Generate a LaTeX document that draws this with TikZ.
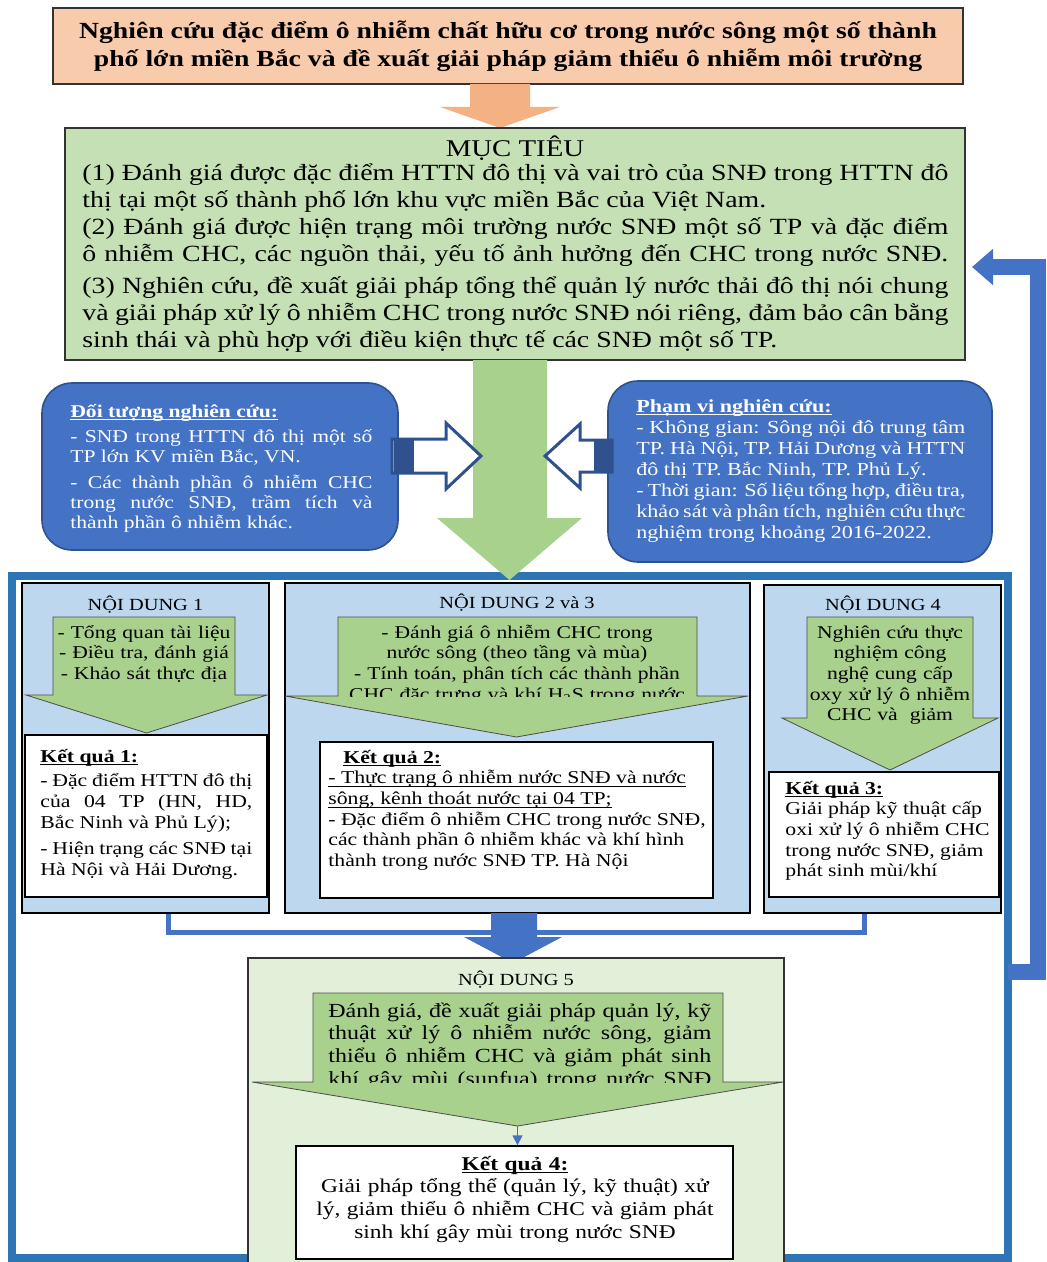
\documentclass[tikz,border=0pt]{standalone}
\usepackage{fontspec}
\setmainfont{Liberation Serif}[FakeStretch=1.2]
\usepackage{tikz}
\usetikzlibrary{arrows.meta}

\definecolor{peach}{HTML}{F8CBAD}
\definecolor{orangearr}{HTML}{F4B183}
\definecolor{goalgreen}{HTML}{C5E0B4}
\definecolor{arrgreen}{HTML}{A9D18E}
\definecolor{paleblue}{HTML}{BDD7EE}
\definecolor{midblue}{HTML}{4472C4}
\definecolor{darkblue}{HTML}{2F528F}
\definecolor{frameblue}{HTML}{2E75B6}
\definecolor{palegreen}{HTML}{E2F0D9}

% font word spaces back (tikz align makes them rigid)
\newcommand{\nsp}{\spaceskip=0pt\xspaceskip=0pt\relax}
% justified line of a box
\newcommand{\jl}[1]{\makebox[\linewidth][s]{\nsp#1}}
% underline kept close to the baseline
\newcommand{\ul}[1]{\underline{\smash{#1}}}
% down block arrow: shaft x1 x2, top, head y, head x1 x2, tip y
\newcommand{\blockdown}[8][]{\path[#1] (#2,#4) -- (#3,#4) -- (#3,#5) -- (#7,#5) -- ({(#6+#7)/2},#8) -- (#6,#5) -- (#2,#5) -- cycle;}

\begin{document}
\begin{tikzpicture}[x=0.5pt, y=-0.5pt]
  \tikzstyle{titlebox} = [draw=black!80, line width=0.8pt, fill=peach, minimum width=455pt, minimum height=38pt, align=center, font={\fontsize{11.55}{14}\selectfont\bfseries}]
  \tikzstyle{goalbox} = [draw=black!80, line width=0.8pt, fill=goalgreen, minimum width=450pt, minimum height=116pt]
  \tikzstyle{scopebox} = [draw=darkblue, line width=0.8pt, fill=midblue, rounded corners=15pt]
  \tikzstyle{ndbox} = [draw=black, line width=0.6pt, fill=paleblue]
  \tikzstyle{resbox} = [draw=black, line width=0.7pt, fill=white]
  \tikzstyle{ndarrow} = [draw=black!70, line width=0.4pt, fill=arrgreen]
  \tikzstyle{hollow} = [draw=darkblue, line width=1.5pt, fill=white, line join=miter]
  \tikzstyle{txtl} = [inner sep=0pt, anchor=base west, align=left, execute at begin node=\nsp]
  \tikzstyle{txtc} = [inner sep=0pt, anchor=base, align=center]
  \tikzstyle{ndhead} = [inner sep=0pt, anchor=base, font={\fontsize{8.5}{10}\selectfont}]
  \tikzstyle{arrfont} = [font={\fontsize{9}{10.35}\selectfont}]
  \tikzstyle{resfont} = [font={\fontsize{9.05}{10.35}\selectfont}]
  \tikzstyle{fbarrow} = [midblue, line width=8pt, line join=miter, -{Triangle[width=17.5pt,length=10.5pt]}]

  \useasboundingbox (0,0) rectangle (1046,1262);

  % outer frame
  \draw[frameblue, line width=4pt] (12,576) rectangle (1008,1258);

  % title and objectives
  \node[titlebox] (title) at (508,46) {Nghiên cứu đặc điểm ô nhiễm chất hữu cơ trong nước sông một số thành\\phố lớn miền Bắc và đề xuất giải pháp giảm thiểu ô nhiễm môi trường};
  \blockdown[fill=orangearr]{470}{530}{84}{107}{440}{560}{128}
  \node[goalbox] (mt) at (515,244) {};
  \node[txtc, font={\fontsize{12}{13.5}\selectfont}] at (515,157) {MỤC TIÊU};
  \node[txtl, text width=433pt, font={\fontsize{11.6}{13.5}\selectfont}] at (82,181) {\jl{(1) Đánh giá được đặc điểm HTTN đô thị và vai trò của SNĐ trong HTTN đô}\\
    thị tại một số thành phố lớn khu vực miền Bắc của Việt Nam.\\
    \jl{(2) Đánh giá được hiện trạng môi trường nước SNĐ một số TP và đặc điểm}\\
    \jl{ô nhiễm CHC, các nguồn thải, yếu tố ảnh hưởng đến CHC trong nước SNĐ.}\\[2.5pt]
    \jl{(3) Nghiên cứu, đề xuất giải pháp tổng thể quản lý nước thải đô thị nói chung}\\
    \jl{và giải pháp xử lý ô nhiễm CHC trong nước SNĐ nói riêng, đảm bảo cân bằng}\\
    sinh thái và phù hợp với điều kiện thực tế các SNĐ một số TP.};
  \blockdown[fill=arrgreen]{473}{547}{360}{518}{437}{582}{580}

  % object and scope
  \node[scopebox, minimum width=178pt, minimum height=83.5pt] (obj) at (220,466.5) {};
  \node[txtl, text width=151pt, text=white, font={\fontsize{9}{10}\selectfont}] at (70,417) {\ul{\textbf{Đối tượng nghiên cứu:}}\\[2.5pt]
    \jl{- SNĐ trong HTTN đô thị một số}\\
    TP lớn KV miền Bắc, VN.\\[3pt]
    \jl{- Các thành phần ô nhiễm CHC}\\
    \jl{trong nước SNĐ, trầm tích và}\\
    thành phần ô nhiễm khác.};
  \node[scopebox, minimum width=192pt, minimum height=90.5pt] (pham) at (800,471.5) {};
  \node[txtl, text width=164.5pt, text=white, font={\fontsize{9.2}{10.5}\selectfont}] at (636,412) {\ul{\textbf{Phạm vi nghiên cứu:}}\\
    \jl{- Không gian: Sông nội đô trung tâm}\\
    \jl{TP. Hà Nội, TP. Hải Dương và HTTN}\\
    đô thị TP. Bắc Ninh, TP. Phủ Lý.\\
    \jl{- Thời gian: Số liệu tổng hợp, điều tra,}\\
    \jl{khảo sát và phân tích, nghiên cứu thực}\\
    nghiệm trong khoảng 2016-2022.};
  \path[hollow] (392,439) -- (446,439) -- (446,423) -- (481,456) -- (446,489) -- (446,473) -- (392,473) -- cycle;
  \fill[darkblue] (394,439) rectangle (414,473);
  \path[hollow] (612,440) -- (580,440) -- (580,424) -- (545,456) -- (580,488) -- (580,472) -- (612,472) -- cycle;
  \fill[darkblue] (594,440) rectangle (612,472);

  % content 1
  \node[ndbox, minimum width=123.5pt, minimum height=165pt] (nd1) at (145.5,748) {};
  \node[ndhead] at (145.5,610) {NỘI DUNG 1};
  \blockdown[ndarrow]{53}{235}{617}{695}{26}{267}{733}
  \node[txtc, arrfont, text width=88pt] at (144,638) {- Tổng quan tài liệu\\- Điều tra, đánh giá\\- Khảo sát thực địa};
  \node[resbox, minimum width=121pt, minimum height=81pt] (r1) at (146,816) {};
  \node[txtl, resfont, text width=106pt] at (40,762) {\ul{\textbf{Kết quả 1:}}\\[2pt]
    \jl{- Đặc điểm HTTN đô thị}\\
    \jl{của 04 TP (HN, HD,}\\
    Bắc Ninh và Phủ Lý);\\[3pt]
    \jl{- Hiện trạng các SNĐ tại}\\
    Hà Nội và Hải Dương.};

  % content 2 and 3
  \node[ndbox, minimum width=232.5pt, minimum height=165pt] (nd23) at (517.5,748) {};
  \node[ndhead] at (517,608) {NỘI DUNG 2 và 3};
  \blockdown[ndarrow]{338}{697}{617}{696}{285}{748}{737}
  \begin{scope}
    \clip (338,617) rectangle (697,696);
    \node[txtc, arrfont, text width=178pt] at (517,638) {- Đánh giá ô nhiễm CHC trong\\nước sông (theo tầng và mùa)\\- Tính toán, phân tích các thành phần\\CHC đặc trưng và khí H\textsubscript{2}S trong nước};
  \end{scope}
  \node[resbox, minimum width=196.5pt, minimum height=78pt] (r2) at (516.5,820) {};
  \node[txtl, resfont, text width=200pt] at (328,763) {\hspace*{7.5pt}\ul{\textbf{Kết quả 2:}}\\
    \ul{- Thực trạng ô nhiễm nước SNĐ và nước}\\
    \ul{sông, kênh thoát nước tại 04 TP;}\\
    - Đặc điểm ô nhiễm CHC trong nước SNĐ,\\
    các thành phần ô nhiễm khác và khí hình\\
    thành trong nước SNĐ TP. Hà Nội};

  % content 4
  \node[ndbox, minimum width=118.5pt, minimum height=164pt] (nd4) at (882.5,749) {};
  \node[ndhead] at (883,610) {NỘI DUNG 4};
  \blockdown[ndarrow]{807}{973}{617}{718}{782}{998}{770}
  \node[txtc, arrfont, text width=82pt] at (890,638) {Nghiên cứu thực\\nghiệm công\\nghệ cung cấp\\oxy xử lý ô nhiễm\\CHC và\ \ giảm};
  \node[resbox, minimum width=115pt, minimum height=62.5pt] (r3) at (884,834.5) {};
  \node[txtl, resfont, text width=105pt] at (785,794) {\ul{\textbf{Kết quả 3:}}\\
    Giải pháp kỹ thuật cấp\\
    oxi xử lý ô nhiễm CHC\\
    trong nước SNĐ, giảm\\
    phát sinh mùi/khí};

  % join towards content 5
  \draw[midblue, line width=2.5pt, line join=miter] ([xshift=11.25pt]nd1.south) -- ++(0,19) -| ([xshift=-9.25pt]nd4.south);
  \blockdown[fill=midblue]{491}{537}{913}{937}{464}{562}{963}

  % content 5
  \node[draw=black!80, line width=0.6pt, fill=palegreen, minimum width=268pt, minimum height=161pt] (nd5) at (516,1119) {};
  \node[ndhead] at (516,985) {NỘI DUNG 5};
  \blockdown[ndarrow]{313}{723}{993}{1082}{252}{783}{1126}
  \begin{scope}
    \clip (313,993) rectangle (723,1082);
    \node[txtl, text width=191.5pt, font={\fontsize{10}{11.35}\selectfont}] at (328,1017) {\jl{Đánh giá, đề xuất giải pháp quản lý, kỹ}\\
      \jl{thuật xử lý ô nhiễm nước sông, giảm}\\
      \jl{thiểu ô nhiễm CHC và giảm phát sinh}\\
      \jl{khí gây mùi (sunfua) trong nước SNĐ}};
  \end{scope}
  \coordinate (t5) at (517.5,1126);
  \node[resbox, minimum width=218.5pt, minimum height=56.5pt] (r4) at (514.5,1202.5) {};
  \draw[midblue, line width=0.8pt, -{Triangle[width=5pt,length=5pt]}] (t5) -- (t5 |- r4.north);
  \node[txtc, text width=215pt, font={\fontsize{9.75}{11.35}\selectfont}] at (515,1170) {\ul{\textbf{Kết quả 4:}}\\
    Giải pháp tổng thể (quản lý, kỹ thuật) xử\\
    lý, giảm thiểu ô nhiễm CHC và giảm phát\\
    sinh khí gây mùi trong nước SNĐ};

  % feedback to objectives
  \coordinate (fbout) at (1008,972);
  \coordinate (fbin) at (972,267);
  \draw[fbarrow] (fbout) -- (1038,972) -- (1038,267) -- (fbin);
\end{tikzpicture}
\end{document}
